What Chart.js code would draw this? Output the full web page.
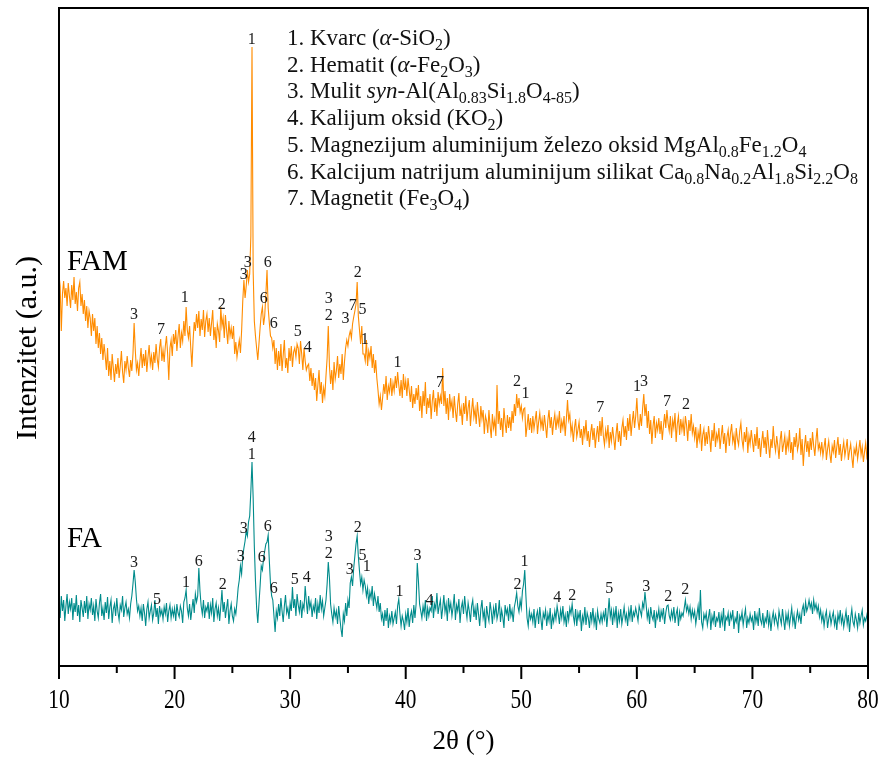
<!DOCTYPE html>
<html>
<head>
<meta charset="utf-8">
<script src="https://cdn.jsdelivr.net/npm/chart.js@4.4.1/dist/chart.umd.min.js"></script>
<style>
  html, body { margin: 0; padding: 0; background: #fff; }
  #wrap { width: 883px; height: 758px; }
</style>
</head>
<body>
<div id="wrap"><canvas id="c" width="883" height="758"></canvas></div>
<script>
// 2θ sampling (degrees)
const angleStart = 10;
const angleStep = 0.1;
const xTicks = [10, 20, 30, 40, 50, 60, 70, 80];

// FAM intensity (a.u.), one row per degree (x.0 ... x.9)
const famIntensity = [
391,380,335,372,385,368,378,360,383,370,
358,381,366,389,362,374,355,378,384,360,
372,352,366,345,360,338,355,348,330,352,
335,348,322,340,318,333,312,328,306,322,
310,296,318,290,305,286,312,298,284,302,
292,308,288,300,315,294,283,305,296,310,
298,289,306,295,312,343,316,296,303,290,
305,318,298,312,300,316,294,309,321,302,
310,296,314,303,322,307,299,318,327,305,
316,304,320,330,312,286,318,326,310,332,
322,336,315,330,342,318,333,325,345,330,
359,336,328,340,318,299,325,344,335,352,
338,355,330,347,336,356,329,345,352,334,
348,330,343,356,326,339,318,342,335,324,
359,340,348,328,351,336,322,345,330,338,
327,340,312,324,309,318,326,313,335,365,
386,368,380,396,384,392,430,619,395,345,
330,318,306,322,338,352,359,341,350,372,
396,358,343,330,328,318,326,302,318,296,
315,300,322,295,311,326,298,308,293,318,
305,320,299,314,318,309,322,318,302,325,
312,296,318,305,296,300,302,285,298,280,
293,276,288,265,281,296,272,284,263,278,
270,290,308,340,300,282,296,276,304,287,
295,310,288,302,292,312,286,304,318,326,
320,330,335,328,342,349,355,362,384,350,
336,322,340,312,312,305,326,300,315,308,
320,298,312,293,306,288,276,262,270,256,
268,282,272,290,266,280,274,288,270,283,
275,290,278,294,281,270,286,268,292,276,
285,270,288,276,264,280,258,272,262,278,
266,281,255,270,248,275,260,284,252,268,
258,272,247,265,276,254,268,250,274,262,
270,262,298,260,275,252,268,246,272,258,
265,248,270,255,244,262,273,250,258,241,
263,252,270,245,258,266,240,255,268,249,
257,242,264,251,239,260,247,256,232,250,
245,233,256,240,228,252,238,246,230,281,
242,255,236,248,229,258,244,233,251,238,
249,235,255,243,262,250,272,258,268,254,
260,248,257,258,229,240,252,236,248,233,
250,237,246,255,232,244,253,239,247,235,
251,240,228,246,256,238,249,231,244,252,
236,248,241,255,233,245,238,250,230,247,
266,246,252,233,241,224,238,247,229,236,
244,228,237,221,240,231,246,225,235,219,
233,242,226,238,218,231,240,224,245,230,
249,230,221,236,227,241,218,234,225,239,
228,216,232,243,224,235,220,238,246,229,
240,226,248,235,252,230,244,255,238,250,
268,245,236,252,240,258,272,250,262,238,
255,232,246,222,240,250,228,243,236,248,
232,245,226,240,252,238,256,243,235,250,
228,246,238,253,224,242,250,231,247,236,
245,230,250,241,225,246,235,252,233,240,
228,239,218,234,226,242,215,231,237,220,
234,222,240,228,214,236,225,243,219,232,
226,238,217,230,241,222,233,213,229,236,
220,233,242,224,231,216,238,227,221,235,
243,226,218,234,224,239,213,230,222,236,
225,214,232,220,239,217,228,209,224,235,
218,229,212,236,221,208,227,218,240,223,
215,230,220,207,226,235,214,222,230,211,
226,218,236,213,224,206,229,219,233,216,
222,238,211,227,200,219,231,214,225,209,
228,216,234,220,210,226,238,217,222,213,
224,210,219,228,206,217,225,212,203,220,
214,226,208,219,229,211,222,205,216,224,
210,218,227,206,215,222,209,198,217,212,
221,207,216,226,211,219,204,214,223,209,
214
];

// FA intensity (a.u.), one row per degree (x.0 ... x.9)
const faIntensity = [
62,48,70,55,66,45,60,72,52,64,
57,68,46,63,54,71,50,61,44,66,
58,49,65,53,70,47,62,56,68,51,
60,45,67,55,48,63,72,50,58,46,
64,53,69,47,59,66,43,57,62,50,
68,54,46,61,56,70,49,58,64,52,
57,48,62,70,82,96,84,67,55,60,
50,58,45,62,53,40,57,64,48,55,
61,46,53,66,49,58,42,60,51,56,
47,59,52,63,44,55,61,48,57,50,
58,45,62,53,49,60,55,43,64,68,
76,58,50,62,46,57,67,53,72,64,
70,98,75,60,52,66,48,59,55,64,
47,61,53,68,44,57,63,50,58,45,
60,76,54,64,48,58,67,42,55,62,
50,45,57,52,64,78,86,100,92,110,
118,125,135,130,144,150,175,204,168,120,
85,58,43,62,80,100,96,108,115,122,
124,131,105,82,70,66,50,34,55,48,
62,50,68,55,44,60,71,53,58,47,
63,55,79,58,67,50,72,61,54,66,
48,62,57,80,65,52,70,58,64,49,
60,55,68,47,62,53,71,57,65,50,
58,66,82,104,88,62,52,44,58,49,
55,42,60,48,37,29,52,45,63,50,
66,58,83,89,80,98,110,122,130,110,
95,82,89,76,86,80,70,78,62,74,
68,80,60,72,65,58,70,54,63,47,
52,40,56,45,58,38,50,44,55,42,
48,54,42,60,67,52,40,50,45,36,
52,44,58,39,50,55,43,61,48,62,
103,85,62,55,48,60,52,66,45,58,
50,58,55,70,48,62,57,73,52,60,
66,47,58,71,54,62,45,68,56,63,
50,59,72,46,61,55,67,43,58,64,
52,70,57,48,63,55,44,60,66,49,
58,46,63,52,40,57,66,48,55,38,
60,51,45,64,55,42,58,50,63,47,
53,66,44,56,49,38,61,52,57,45,
62,50,56,44,59,65,73,60,54,66,
58,75,82,96,70,48,40,55,47,52,
44,57,38,50,55,42,59,47,36,53,
48,56,40,52,45,58,37,50,44,55,
47,60,52,42,56,48,60,44,51,39,
55,46,58,52,62,50,43,57,40,53,
47,56,35,50,44,59,41,53,48,38,
54,45,58,42,50,36,55,47,43,52,
44,53,47,58,39,52,68,49,56,41,
55,47,60,38,53,45,57,42,50,59,
46,52,40,56,48,61,44,54,50,58,
52,45,60,55,50,63,58,74,62,48,
55,42,59,50,46,56,38,53,48,57,
44,55,49,58,42,53,60,61,50,46,
55,48,59,43,52,57,40,54,47,53,
50,58,66,55,60,52,59,47,56,49,
55,42,51,60,46,76,44,38,52,47,
53,41,49,57,36,50,44,55,39,48,
45,54,38,51,43,58,35,49,46,53,
40,52,47,56,37,48,44,55,33,50,
46,54,41,50,57,38,48,43,52,45,
49,36,55,44,51,40,58,46,42,53,
38,48,44,56,41,50,35,47,54,43,
51,45,39,55,48,42,57,46,36,52,
44,53,40,49,58,43,51,37,48,55,
46,52,42,56,61,50,64,55,59,66,
58,63,52,66,57,62,54,60,49,56,
45,52,40,50,55,38,47,53,42,49,
54,41,48,36,52,45,56,43,50,39,
47,55,42,51,34,48,57,44,40,52,
46,38,53,43,50,56,41,48,45,51,
44
];

// Peak annotations: [phase number, 2θ, intensity at label centre]
const famPeaks = [
['3',16.48,351],['7',18.82,336],['1',20.89,368],['2',24.09,361],
['3',25.99,391],['3',26.33,403],['1',26.68,626],['6',28.06,403],
['6',27.72,367],['6',28.58,342],['5',30.66,334],['4',31.52,318],
['3',33.33,367],['2',33.33,350],['3',34.80,347],['7',35.41,360],
['2',35.84,393],['5',36.27,356],['1',36.45,326],['1',39.30,303],
['7',42.97,283],['2',49.63,284],['1',50.36,272],['2',54.16,276],
['7',56.84,258],['1',60.01,279],['3',60.62,284],['7',62.61,264],
['2',64.26,261]
];
const faPeaks = [
['3',16.48,103],['5',18.47,66],['1',20.98,83],['6',22.10,104],
['2',24.17,81],['3',25.73,109],['3',25.99,137],['1',26.68,211],
['4',26.68,228],['6',28.06,139],['6',27.54,108],['6',28.58,77],
['5',30.40,86],['4',31.43,88],['3',33.33,129],['2',33.33,112],
['3',35.15,96],['2',35.84,138],['5',36.27,110],['1',36.62,99],
['1',39.47,74],['3',41.03,110],['4',42.06,65],['2',49.67,81],
['1',50.27,104],['4',53.12,68],['2',54.42,70],['5',57.62,77],
['3',60.82,79],['2',62.72,69],['2',64.19,76]
];

// Sample names: [text, 2θ at left edge, intensity at baseline]
const sampleNames = [['FAM',10.69,396],['FA',10.69,119]];

// Phase key (<i> italic, <s> subscript)
const phaseNames = [
'1. Kvarc (<i>α</i>-SiO<s>2</s>)',
'2. Hematit (<i>α</i>-Fe<s>2</s>O<s>3</s>)',
'3. Mulit <i>syn</i>-Al(Al<s>0.83</s>Si<s>1.8</s>O<s>4-85</s>)',
'4. Kalijum oksid (KO<s>2</s>)',
'5. Magnezijum aluminijum železo oksid MgAl<s>0.8</s>Fe<s>1.2</s>O<s>4</s>',
'6. Kalcijum natrijum aluminijum silikat Ca<s>0.8</s>Na<s>0.2</s>Al<s>1.8</s>Si<s>2.2</s>O<s>8</s>',
'7. Magnetit (Fe<s>3</s>O<s>4</s>)'
];

const xTitle = '2θ (°)';
const yTitle = 'Intenzitet (a.u.)';

function toPoints(vals) {
  return vals.map((v, i) => ({ x: +(angleStart + i * angleStep).toFixed(2), y: v }));
}

const SERIF = '"Liberation Serif", "Times New Roman", serif';

function drawRich(ctx, str, x, y, size) {
  const parts = str.split(/(<i>.*?<\/i>|<s>.*?<\/s>)/).filter(p => p.length);
  let cx = x;
  parts.forEach(p => {
    let txt = p, font = size + 'px ' + SERIF, dy = 0;
    if (p.startsWith('<i>')) { txt = p.slice(3, -4); font = 'italic ' + size + 'px ' + SERIF; }
    else if (p.startsWith('<s>')) { txt = p.slice(3, -4); font = Math.round(size * 0.7) + 'px ' + SERIF; dy = size * 0.22; }
    ctx.font = font;
    ctx.fillText(txt, cx, y + dy);
    cx += ctx.measureText(txt).width;
  });
}

const decor = {
  id: 'decor',
  afterDatasetsDraw(chart) {
    const { ctx, chartArea: a, scales: { x, y } } = chart;
    ctx.save();
    // frame
    ctx.strokeStyle = '#000';
    ctx.lineWidth = 2;
    ctx.strokeRect(a.left, a.top, a.right - a.left, a.bottom - a.top);
    // ticks + labels
    x.ticks.forEach(t => {
      const px = x.getPixelForValue(t.value);
      const major = xTicks.includes(t.value);
      ctx.beginPath();
      ctx.moveTo(px, a.bottom);
      ctx.lineTo(px, a.bottom + (major ? 13 : 7));
      ctx.stroke();
      if (major) {
        ctx.save();
        ctx.translate(px, a.bottom + 42);
        ctx.scale(0.79, 1);
        ctx.font = '27px ' + SERIF;
        ctx.textAlign = 'center';
        ctx.textBaseline = 'alphabetic';
        ctx.fillStyle = '#000';
        ctx.fillText(String(t.value), 0, 0);
        ctx.restore();
      }
    });
    // y title
    ctx.save();
    ctx.translate(28, (a.top + a.bottom) / 2 + 11);
    ctx.rotate(-Math.PI / 2);
    ctx.font = '30px ' + SERIF;
    ctx.fillStyle = '#000';
    ctx.textAlign = 'center';
    ctx.textBaseline = 'middle';
    ctx.fillText(yTitle, 0, 0);
    ctx.restore();
    // peak labels
    ctx.fillStyle = '#1a1a1a';
    ctx.font = '16px ' + SERIF;
    ctx.textAlign = 'center';
    ctx.textBaseline = 'middle';
    famPeaks.concat(faPeaks).forEach(([t, ax, h]) => {
      ctx.fillText(t, x.getPixelForValue(ax), y.getPixelForValue(h));
    });
    // sample names
    ctx.fillStyle = '#000';
    ctx.font = '29px ' + SERIF;
    ctx.textAlign = 'left';
    ctx.textBaseline = 'alphabetic';
    sampleNames.forEach(([t, ax, h]) => {
      ctx.fillText(t, x.getPixelForValue(ax), y.getPixelForValue(h));
    });
    // phase key
    ctx.fillStyle = '#111';
    ctx.textAlign = 'left';
    ctx.textBaseline = 'alphabetic';
    phaseNames.forEach((s, i) => drawRich(ctx, s, 287, 45 + i * 26.7, 23));
    ctx.restore();
  }
};

new Chart(document.getElementById('c'), {
  type: 'line',
  data: {
    datasets: [
      { label: 'FAM', data: toPoints(famIntensity), borderColor: '#FF8C00', borderWidth: 1.1, pointRadius: 0, tension: 0, fill: false },
      { label: 'FA', data: toPoints(faIntensity), borderColor: '#008B8B', borderWidth: 1.1, pointRadius: 0, tension: 0, fill: false }
    ]
  },
  options: {
    responsive: false,
    animation: false,
    events: [],
    devicePixelRatio: 1,
    layout: { padding: { top: 8, right: 15, left: 0, bottom: 0 } },
    plugins: { legend: { display: false }, tooltip: { enabled: false } },
    scales: {
      x: {
        type: 'linear', min: 10, max: 80,
        ticks: { display: false, stepSize: 5 },
        grid: { display: false }, border: { display: false },
        title: { display: true, text: xTitle, font: { family: SERIF, size: 27 }, color: '#000', padding: 0 },
        afterFit(s) { s.height = 92; }
      },
      y: {
        min: 0, max: 658,
        ticks: { display: false },
        grid: { display: false }, border: { display: false },
        afterFit(s) { s.width = 59; }
      }
    }
  },
  plugins: [decor]
});
</script>
</body>
</html>
